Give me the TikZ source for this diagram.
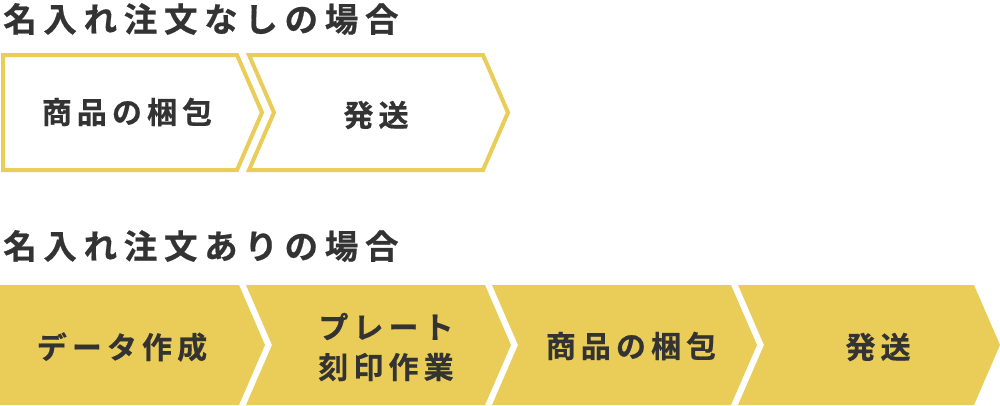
\documentclass[tikz,border=0pt]{standalone}
\usepackage{fontspec}
\newfontfamily\jp{Noto Sans CJK JP Bold}[FakeBold=0.6]
\definecolor{ylw}{HTML}{E9CD58}
\definecolor{ink}{HTML}{333333}
\begin{document}
\begin{tikzpicture}[x=1pt,y=-1pt,
  title/.style={anchor=west,inner sep=0pt,text=ink,font={\jp\addfontfeature{LetterSpace=20}\fontsize{33.5}{38}\selectfont}},
  lbl/.style={inner sep=0pt,text=ink,align=center,font={\jp\addfontfeature{LetterSpace=17}\fontsize{30}{40}\selectfont}},
  outl/.style={draw=ylw,line width=4pt,fill=white,line join=miter},
  filled/.style={fill=ylw}]
\useasboundingbox (0,0) rectangle (1000,405);
% titles
\node[title] (t1) at (3,19) {名入れ注文なしの場合};
\node[title] (t2) at (3,246) {名入れ注文ありの場合};
% top row outlined chevrons
\path[outl] (3,55) -- (237,55) -- (262,112.5) -- (237,170) -- (3,170) -- cycle;
\path[outl] (249,55) -- (483,55) -- (508,112.5) -- (483,170) -- (249,170) -- (274,112.5) -- cycle;
\node[lbl] (a1) at (127,112) {商品の梱包};
\node[lbl] (a2) at (376,115) {発送};
% bottom row filled chevrons
\fill[filled] (0,285) -- (239,285) -- (265,345) -- (239,405) -- (0,405) -- cycle;
\fill[filled] (246,285) -- (485,285) -- (511,345) -- (485,405) -- (246,405) -- (272,345) -- cycle;
\fill[filled] (492,285) -- (731,285) -- (757,345) -- (731,405) -- (492,405) -- (518,345) -- cycle;
\fill[filled] (738,285) -- (974,285) -- (1000,345) -- (974,405) -- (738,405) -- (764,345) -- cycle;
\node[lbl] (b1) at (122,347) {データ作成};
\node[lbl] (b2) at (386,347) {プレート\\刻印作業};
\node[lbl] (b3) at (631,346) {商品の梱包};
\node[lbl] (b4) at (878,347) {発送};
\end{tikzpicture}
\end{document}
